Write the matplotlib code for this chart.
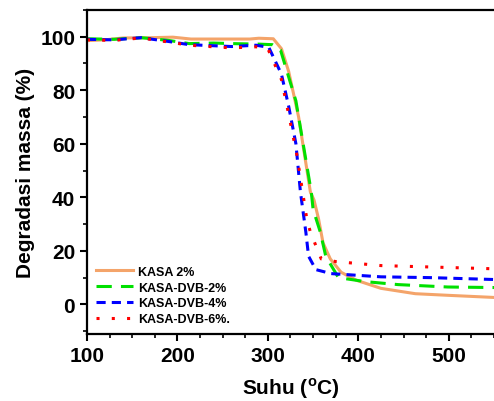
import matplotlib
matplotlib.use("Agg")
import matplotlib.pyplot as plt
from matplotlib.ticker import MultipleLocator

plt.rcParams["font.family"] = ["Liberation Sans", "DejaVu Sans"]
plt.rcParams["font.weight"] = "bold"
plt.rcParams["mathtext.fontset"] = "custom"
plt.rcParams["mathtext.rm"] = "Liberation Sans"
plt.rcParams["mathtext.bf"] = "Liberation Sans:bold"

# TGA curves: temperature (C) vs remaining mass (%)
kasa_t = [100, 120, 140, 170, 195, 215, 250, 280, 290, 306, 315, 323, 334, 347,
          351, 356, 361, 369, 381, 398, 425, 463, 499, 550]
kasa_m = [98.5, 98.8, 99.5, 99.6, 99.8, 99.1, 99.1, 99.1, 99.4, 99.2, 95.5, 87, 70, 42,
          39, 32, 23, 17, 12, 9, 6, 4, 3.4, 2.6]

dvb2_t = [100, 130, 160, 190, 213, 240, 260, 290, 305, 314, 331, 348, 350, 358,
          364, 378, 408, 444, 499, 550]
dvb2_m = [99.2, 99.0, 99.6, 98.6, 97.4, 97.6, 97.4, 97.2, 97.0, 95, 76, 42, 35.5, 27,
          18, 10, 8.5, 7.4, 6.5, 6.3]

dvb4_t = [100, 130, 160, 190, 213, 240, 260, 287, 301, 315, 323, 331, 336, 342,
          345, 353, 370, 425, 480, 550]
dvb4_m = [99.0, 98.8, 99.6, 98.2, 97.0, 96.6, 96.3, 96.8, 96.0, 86, 74, 60, 42, 27,
          18, 13, 11.5, 10.3, 10.0, 9.3]

dvb6_t = [100, 130, 160, 190, 213, 240, 260, 287, 300, 315, 323, 332, 343, 347,
          359, 375, 425, 550]
dvb6_m = [98.8, 98.6, 99.5, 98.0, 96.8, 96.2, 95.8, 96.2, 95.5, 84, 71, 56, 32, 27,
          17, 16, 14.5, 13.3]

series = [
    (kasa_t, kasa_m, "KASA 2%", "#F4A46A", "-"),
    (dvb2_t, dvb2_m, "KASA-DVB-2%", "#00E000", (0, (5, 3))),
    (dvb4_t, dvb4_m, "KASA-DVB-4%", "#0000FF", (0, (3, 2))),
    (dvb6_t, dvb6_m, "KASA-DVB-6%.", "#FF0000", (0, (1, 4))),
]

fig = plt.figure(figsize=(4.94, 4.02), dpi=100)
ax = fig.add_axes([0.176, 0.167, 0.824, 0.806])

for t, m, label, color, ls in series:
    ax.plot(t, m, color=color, linestyle=ls, linewidth=2.2, label=label)

ax.set_xlim(100, 550)
ax.set_ylim(-11, 110)
ax.xaxis.set_major_locator(MultipleLocator(100))
ax.xaxis.set_minor_locator(MultipleLocator(25))
ax.yaxis.set_major_locator(MultipleLocator(20))
ax.yaxis.set_minor_locator(MultipleLocator(10))

for side in ("left", "bottom", "top"):
    ax.spines[side].set_linewidth(1.6)
ax.spines["right"].set_visible(False)
ax.tick_params(which="major", direction="out", length=5, width=1.5, labelsize=15)
ax.tick_params(which="minor", direction="out", length=3, width=1.2)
for lbl in ax.get_xticklabels() + ax.get_yticklabels():
    lbl.set_fontweight("bold")

ax.set_xlabel(r"Suhu ($^{\mathrm{o}}$C)", fontsize=15, fontweight="bold", labelpad=8)
ax.set_ylabel("Degradasi massa (%)", fontsize=15, fontweight="bold", labelpad=4)

leg = ax.legend(loc="lower left", bbox_to_anchor=(0.0, 0.0), frameon=False,
                prop={"size": 9, "weight": "bold"}, handlelength=3.0,
                handletextpad=0.4, labelspacing=0.3, borderaxespad=0.3)

fig.savefig("out.png", dpi=100)
